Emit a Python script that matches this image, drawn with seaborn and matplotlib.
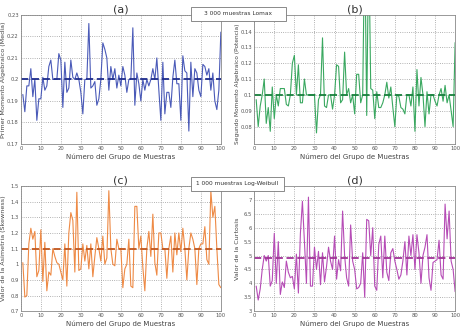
import numpy as np
import pandas as pd
import seaborn as sns
import matplotlib.pyplot as plt
from matplotlib.patches import Rectangle

# valores (grupos de muestras 1..100)
grupos = list(range(1, 101))

media = [0.193, 0.185, 0.197, 0.197, 0.205, 0.192, 0.200, 0.181, 0.191, 0.191,
         0.201, 0.195, 0.197, 0.206, 0.209, 0.200, 0.200, 0.200, 0.212, 0.209,
         0.187, 0.208, 0.194, 0.196, 0.209, 0.201, 0.200, 0.203, 0.200, 0.194,
         0.184, 0.200, 0.200, 0.226, 0.196, 0.197, 0.199, 0.188, 0.191, 0.200,
         0.217, 0.214, 0.210, 0.195, 0.206, 0.200, 0.205, 0.196, 0.202, 0.197,
         0.206, 0.202, 0.194, 0.200, 0.200, 0.224, 0.188, 0.203, 0.198, 0.190,
         0.200, 0.195, 0.200, 0.197, 0.200, 0.205, 0.200, 0.210, 0.195, 0.181,
         0.208, 0.184, 0.194, 0.194, 0.187, 0.201, 0.209, 0.198, 0.198, 0.181,
         0.211, 0.204, 0.203, 0.176, 0.208, 0.192, 0.205, 0.203, 0.195, 0.192,
         0.207, 0.206, 0.202, 0.205, 0.195, 0.203, 0.190, 0.186, 0.195, 0.222]

potencia = [0.097, 0.080, 0.093, 0.100, 0.110, 0.082, 0.092, 0.077, 0.105, 0.085,
            0.100, 0.093, 0.104, 0.104, 0.104, 0.094, 0.093, 0.100, 0.120, 0.125,
            0.100, 0.119, 0.095, 0.095, 0.110, 0.100, 0.100, 0.100, 0.100, 0.100,
            0.076, 0.097, 0.100, 0.136, 0.093, 0.092, 0.100, 0.100, 0.091, 0.100,
            0.119, 0.118, 0.095, 0.097, 0.127, 0.100, 0.104, 0.095, 0.100, 0.088,
            0.113, 0.113, 0.095, 0.100, 0.200, 0.087, 0.200, 0.104, 0.103, 0.085,
            0.102, 0.092, 0.092, 0.095, 0.100, 0.108, 0.098, 0.105, 0.092, 0.080,
            0.100, 0.099, 0.092, 0.091, 0.088, 0.100, 0.100, 0.093, 0.105, 0.077,
            0.116, 0.093, 0.111, 0.100, 0.080, 0.102, 0.088, 0.100, 0.100, 0.096,
            0.093, 0.100, 0.104, 0.096, 0.106, 0.095, 0.100, 0.090, 0.080, 0.133]

asimetria = [1.01, 0.79, 0.80, 1.13, 1.23, 1.16, 1.21, 0.92, 0.96, 1.22,
             0.89, 1.14, 0.83, 0.95, 0.93, 1.10, 1.05, 1.01, 1.00, 0.95,
             0.90, 1.13, 0.86, 1.20, 1.33, 1.28, 0.95, 1.46, 0.96, 0.97,
             1.13, 1.02, 1.12, 0.97, 1.13, 0.92, 1.05, 1.17, 1.10, 1.02,
             1.18, 1.00, 1.04, 1.47, 1.10, 1.00, 0.99, 1.16, 1.10, 1.10,
             0.85, 0.97, 1.00, 1.16, 0.86, 0.85, 1.37, 1.37, 1.10, 1.18,
             0.98, 0.83, 1.10, 1.21, 1.05, 1.32, 1.01, 0.93, 1.20, 1.20,
             1.10, 1.10, 0.91, 1.10, 1.18, 0.95, 1.20, 1.06, 1.20, 1.08,
             1.23, 1.10, 0.90, 1.10, 1.20, 1.16, 1.10, 0.87, 1.10, 1.13,
             1.13, 1.24, 1.03, 1.00, 1.47, 1.30, 1.37, 1.10, 0.87, 0.85]

curtosis = [3.90, 3.40, 3.80, 4.50, 5.00, 4.80, 5.00, 3.90, 4.10, 5.80,
            4.00, 5.50, 3.60, 4.05, 3.85, 4.80, 4.40, 4.20, 4.25, 3.80,
            5.05, 3.65, 5.80, 6.95, 5.50, 4.00, 7.10, 3.90, 3.90, 5.30,
            4.50, 5.15, 3.95, 5.10, 4.05, 4.60, 5.30, 4.80, 4.50, 5.70,
            4.15, 4.85, 4.45, 6.60, 5.00, 4.20, 3.90, 6.10, 4.80, 4.50,
            3.80, 3.85, 4.00, 5.10, 3.50, 6.30, 6.25, 5.00, 6.00, 3.90,
            3.75, 5.40, 5.70, 4.20, 5.70, 4.40, 4.10, 5.10, 5.25, 4.80,
            4.50, 4.15, 4.30, 4.80, 5.50, 4.30, 5.70, 5.00, 5.75, 4.50,
            5.75, 5.10, 4.00, 5.00, 5.30, 5.75, 4.20, 3.75, 4.75, 4.80,
            4.85, 5.55, 4.30, 4.15, 6.85, 5.60, 6.60, 4.80, 4.50, 3.70]

valores_medios = [0.2, 0.1, 1.1, 4.92]

titulos = ['(a)', '(b)', '(c)', '(d)']
etiquetas_y = ['Primer Momento Algebraico (Media)',
               'Segundo Momento Algebraico (Potencia)',
               'Valor de la Asimetría (Skewness)',
               'Valor de la Curtosis']
tam_etiqueta_y = [4.6, 4.2, 4.6, 4.6]
colores = ['#4a5ab8', '#3aa860', '#ee8a45', '#b64cb6']
colores_media = ['#1e2c8c', '#17803c', '#c2561c', '#a03296']
limites_y = [(0.17, 0.23), (0.069, 0.1505), (0.7, 1.5), (3, 7.5)]
ticks_y = [[0.17, 0.18, 0.19, 0.2, 0.21, 0.22, 0.23],
           [0.08, 0.09, 0.1, 0.11, 0.12, 0.13, 0.14],
           [0.7, 0.8, 0.9, 1.0, 1.1, 1.2, 1.3, 1.4, 1.5],
           [3, 3.5, 4, 4.5, 5, 5.5, 6, 6.5, 7]]
etiquetas_ticks_y = [['0.17', '0.18', '0.19', '0.2', '0.21', '0.22', '0.23'],
                     ['0.08', '0.09', '0.1', '0.11', '0.12', '0.13', '0.14'],
                     ['0.7', '0.8', '0.9', '1', '1.1', '1.2', '1.3', '1.4', '1.5'],
                     ['3', '3.5', '4', '4.5', '5', '5.5', '6', '6.5', '7']]
series = [media, potencia, asimetria, curtosis]
textos_muestras = ['3 000 muestras Lomax', '1 000 muestras Log-Weibull']

sns.set_style("whitegrid")
plt.rcParams['font.family'] = ['DejaVu Sans']

fig = plt.figure(figsize=(4.63, 3.31), dpi=100)
posiciones = [[0.045, 0.565, 0.432, 0.39],
              [0.549, 0.565, 0.434, 0.39],
              [0.045, 0.060, 0.432, 0.378],
              [0.549, 0.060, 0.434, 0.378]]

for i in range(4):
    ax = fig.add_axes(posiciones[i])
    df = pd.DataFrame({'grupo': grupos, 'valor': series[i]})
    sns.lineplot(data=df, x='grupo', y='valor', ax=ax, color=colores[i], linewidth=0.8)
    ax.axhline(valores_medios[i], color=colores_media[i], linestyle='--', linewidth=1.3,
               dashes=(4, 2))
    ax.set_xlim(0, 100)
    ax.set_ylim(*limites_y[i])
    ax.set_xticks(range(0, 101, 10))
    ax.set_yticks(ticks_y[i])
    ax.set_yticklabels(etiquetas_ticks_y[i])
    ax.tick_params(labelsize=3.8, colors='#555555', length=0, pad=1.5)
    ax.grid(True, linestyle=':', color='#999999', linewidth=0.6)
    for s in ax.spines.values():
        s.set_color('#888888')
        s.set_linewidth(0.6)
    ax.set_title(titulos[i], fontsize=8, color='#333333', pad=2)
    ax.set_xlabel('Número del Grupo de Muestras', fontsize=5, color='#444444', labelpad=1.5)
    ax.set_ylabel(etiquetas_y[i], fontsize=tam_etiqueta_y[i], color='#444444')
    ax.yaxis.set_label_coords(-0.072, 0.47 if i == 1 else 0.5)

# cuadros de texto con el numero de muestras
cajas = [(0.4125, 0.9366, 0.205, 0.0423), (0.4125, 0.423, 0.201, 0.0423)]
for (x0, y0, w, h), texto in zip(cajas, textos_muestras):
    fig.patches.append(Rectangle((x0, y0), w, h, transform=fig.transFigure,
                                 facecolor='white', edgecolor='#777777',
                                 linewidth=0.6, zorder=5))
    fig.text(x0 + w / 2, y0 + h / 2, texto, fontsize=4.2, color='#333333',
             ha='center', va='center', zorder=6)

fig.savefig('out.png', dpi=100)
